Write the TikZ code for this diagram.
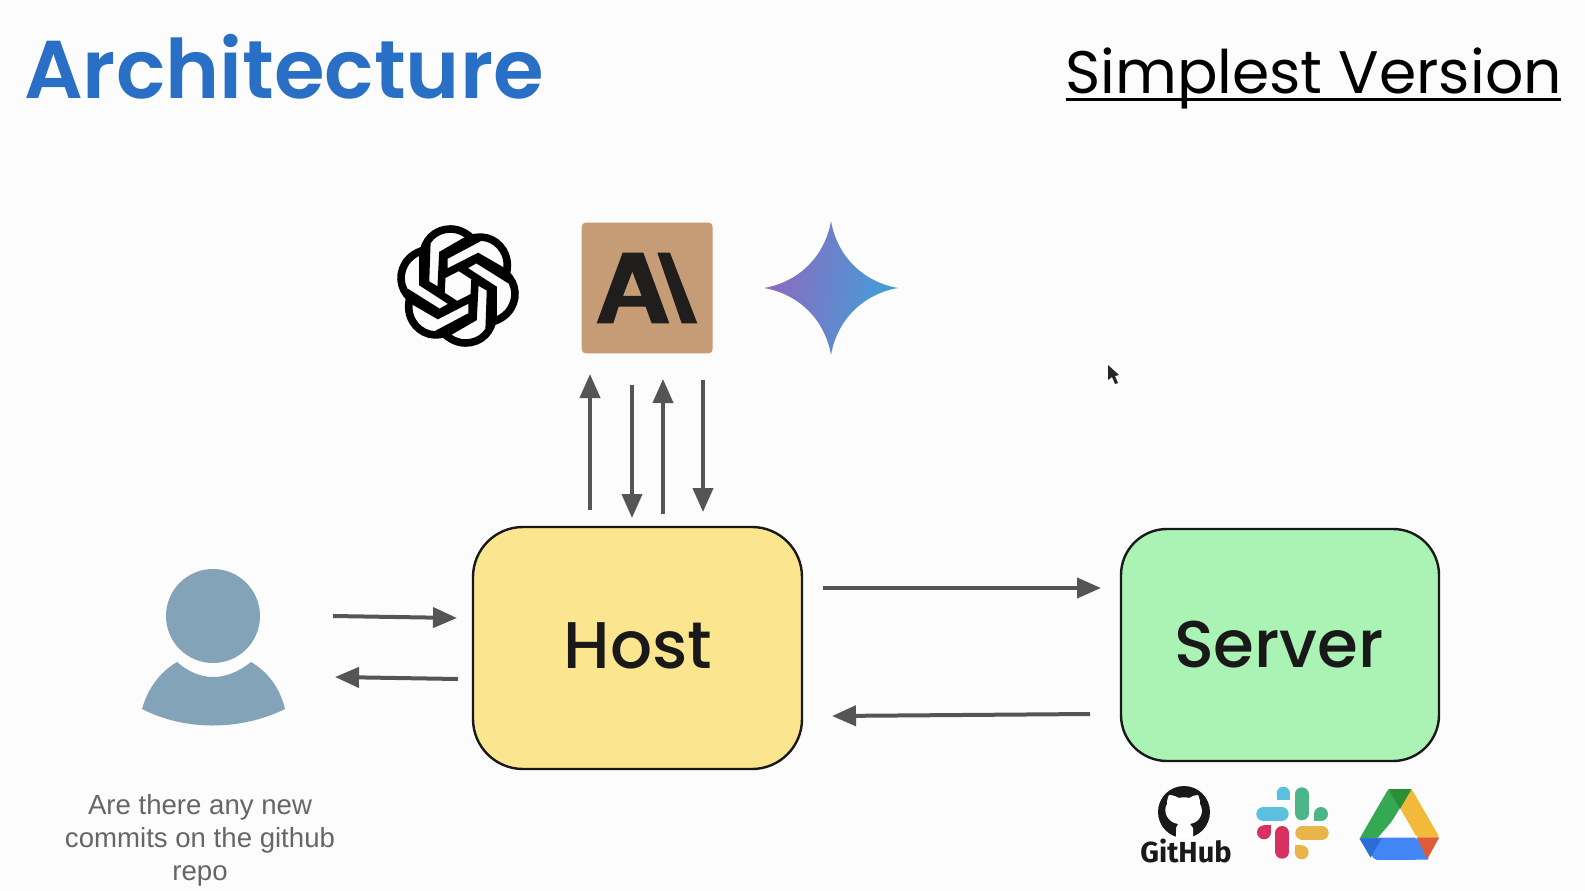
\documentclass[tikz,border=0pt]{standalone}
\usepackage{fontspec}
\setmainfont{Liberation Sans}
\newfontfamily\poppins{Poppins}
\newfontfamily\poppinsM{Poppins Medium}
\newfontfamily\poppinsS{Poppins SemiBold}
\newfontfamily\fira{Fira Sans}
\usetikzlibrary{arrows.meta}
\definecolor{titleblue}{HTML}{2A6FC6}
\definecolor{arrowgrey}{HTML}{555555}
\definecolor{hostfill}{HTML}{FBE68F}
\definecolor{serverfill}{HTML}{ABF3B5}
\definecolor{usercol}{HTML}{83A3B8}
\definecolor{anthro}{HTML}{C69C76}
\definecolor{anthroink}{HTML}{1F1E1C}
\definecolor{starL}{HTML}{9069BC}
\definecolor{starM}{HTML}{5F80CC}
\definecolor{starR}{HTML}{3FA0DC}
\definecolor{slackB}{HTML}{5BC0E0}
\definecolor{slackG}{HTML}{4DB58A}
\definecolor{slackR}{HTML}{D8315F}
\definecolor{slackY}{HTML}{E9B54A}
\definecolor{drvG}{HTML}{34A853}
\definecolor{drvDG}{HTML}{2A8F35}
\definecolor{drvY}{HTML}{F2B93B}
\definecolor{drvB}{HTML}{4285F4}
\definecolor{drvDB}{HTML}{2B6DD2}
\definecolor{drvR}{HTML}{DD5B35}
\tikzset{
  flowarrow/.style={draw=arrowgrey,line width=4pt,-{Triangle[length=24pt,width=20pt]}},
  sketchbox/.style={draw=black!90,line width=2.4pt},
  boxlabel/.style={font=\poppinsM\fontsize{66}{66}\selectfont,text=black!90},
  knot/.style={draw=black,line width=7.6pt,line join=miter,line cap=butt},
  slackpill/.style={line width=14pt,line cap=round}
}
\begin{document}
\begin{tikzpicture}[x=1pt,y=-1pt]
\useasboundingbox (0,0) rectangle (1585,891);
\fill[white!99!black] (0,0) rectangle (1585,891);
% titles
\node[anchor=base west,inner sep=0pt,text=titleblue,font=\poppinsS\fontsize{82}{82}\selectfont] (title) at (24,99) {Architecture};
\node[anchor=base east,inner sep=0pt,text=black,font=\poppins\fontsize{60}{60}\selectfont] (version) at (1562,93) {Simplest Version};
\coordinate (ul1) at (1066,99);
\coordinate (ul2) at (1561,99);
\draw[line width=3pt] (ul1) -- (ul2);
% OpenAI knot
\foreach \a in {0,60,...,300}{
  \begin{scope}[xshift=458pt,yshift=-286pt,rotate=\a,x=.95pt,y=-.95pt]
    \draw[knot] (-3,19) -- (-37,-3) -- (-37,-30) .. controls (-37,-48) and (-24,-60) .. (-8,-60)
      .. controls (2,-60) and (10,-55) .. (17,-48) -- (-15,-31) -- (-15,-12);
  \end{scope}
}
% Anthropic tile
\begin{scope}[xshift=380pt,yshift=-210pt,x=.3333pt,y=-.3333pt]
  \fill[anthro,rounded corners=4pt] (605,38) rectangle (998,430);
  \fill[anthroink,even odd rule] (650,340) -- (728,128) -- (790,128) -- (868,340) -- (815,340) -- (797,290) -- (716,290) -- (700,340) -- cycle
    (757,185) -- (729,258) -- (785,258) -- cycle;
  \fill[anthroink] (832,128) -- (870,128) -- (952,340) -- (905,340) -- cycle;
\end{scope}
% Gemini star
\shade[left color=starL,middle color=starM,right color=starR,shading angle=80]
  (831,221) .. controls (837,256) and (863,282) .. (898,288)
  .. controls (863,294) and (837,320) .. (831,355)
  .. controls (825,320) and (799,294) .. (764,288)
  .. controls (799,282) and (825,256) .. (831,221) -- cycle;
% boxes
\draw[sketchbox,fill=hostfill,rounded corners=50pt] (473,527) rectangle (802,769);
\node[boxlabel] (host) at (638,646) {Host};
\draw[sketchbox,fill=serverfill,rounded corners=46pt] (1121,529) rectangle (1439,761);
\node[boxlabel] (server) at (1279,645) {Server};
% arrow ends
\coordinate (a1s) at (590,510); \coordinate (a1e) at (590,374);
\coordinate (a2s) at (632,385); \coordinate (a2e) at (632,518);
\coordinate (a3s) at (663,514); \coordinate (a3e) at (663,379);
\coordinate (a4s) at (703,380); \coordinate (a4e) at (703,512);
\coordinate (hss) at (823,588); \coordinate (hse) at (1101,588);
\coordinate (shs) at (1090,714); \coordinate (she) at (832,716);
\coordinate (uhs) at (333,616); \coordinate (uhe) at (457,618);
\coordinate (hus) at (458,679); \coordinate (hue) at (335,677);
\foreach \s/\e in {a1s/a1e,a2s/a2e,a3s/a3e,a4s/a4e,hss/hse,shs/she,uhs/uhe,hus/hue}
  \draw[flowarrow] (\s) -- (\e);
% user
\fill[usercol] (213,616) circle (47);
\fill[usercol] (142,709) .. controls (148,688) and (160,672) .. (177,662)
  .. controls (200,682) and (226,682) .. (251,662)
  .. controls (268,672) and (280,688) .. (285,709)
  .. controls (240,731) and (185,731) .. (142,709) -- cycle;
\node[anchor=base,inner sep=0pt,text=black!60,font=\fontsize{27.6}{33}\selectfont] (cap1) at (200,814) {Are there any new};
\node[anchor=base,inner sep=0pt,text=black!60,font=\fontsize{27.6}{33}\selectfont] (cap2) at (200,847) {commits on the github};
\node[anchor=base,inner sep=0pt,text=black!60,font=\fontsize{27.6}{33}\selectfont] (cap3) at (200,880) {repo};
% GitHub
\fill[black!90] (1184,812) circle (26);
\fill[white] (1169,795) .. controls (1174,795) and (1177,797) .. (1179,798)
  .. controls (1182,797) and (1186,797) .. (1189,798)
  .. controls (1192,796) and (1195,795) .. (1198,795)
  .. controls (1200,799) and (1200,802) .. (1200,804)
  .. controls (1204,810) and (1202,822) .. (1190,824)
  -- (1193,828) -- (1193,838) -- (1176,838) -- (1176,828) -- (1178,824)
  .. controls (1166,822) and (1163,810) .. (1167,804)
  .. controls (1167,802) and (1167,799) .. (1169,795) -- cycle;
\draw[black!90,line width=2.2pt] (1162,822) .. controls (1168,823) and (1168,829) .. (1176,830);
\node[anchor=base,inner sep=0pt,text=black!90,font=\fira\bfseries\fontsize{29}{29}\selectfont] (gh) at (1186,862) {GitHub};
% Slack
\begin{scope}[xshift=1120pt,yshift=-765pt,x=.3333pt,y=-.3333pt]
  \draw[slackpill,slackB] (430,147) -- (485,147);
  \fill[slackB] (490,85) circle (20);
  \fill[slackB] (470,85) rectangle (510,105);
  \draw[slackpill,slackG] (545,88) -- (545,145);
  \fill[slackG] (603,147) circle (21);
  \fill[slackG] (582,147) rectangle (603,168);
  \draw[slackpill,slackR] (487,204) -- (487,260);
  \fill[slackR] (432,202) circle (21);
  \fill[slackR] (432,181) rectangle (453,202);
  \draw[slackpill,slackY] (547,203) -- (605,203);
  \fill[slackY] (545,262) circle (21);
  \fill[slackY] (524,241) rectangle (545,262);
  % Drive
  \fill[drvG,rounded corners=2pt] (805,72) -- (845,135) -- (770,222) -- (718,222) -- cycle;
  \fill[drvY,rounded corners=2pt] (875,72) -- (958,216) -- (890,216) -- (835,122) -- cycle;
  \fill[drvDG] (805,72) -- (875,72) -- (840,132) -- cycle;
  \fill[white!99!black] (785,218) -- (840,130) -- (890,218) -- cycle;
  \fill[drvB,rounded corners=2pt] (785,218) -- (890,218) -- (928,284) -- (765,285) -- (718,220) -- cycle;
  \fill[drvDB] (718,220) -- (785,220) -- (752,278) -- cycle;
  \fill[drvR] (890,217) -- (958,217) -- (922,282) -- cycle;
\end{scope}
% cursor
\fill[black!85] (1108,365) -- (1108,380) -- (1112,377) -- (1115,384) -- (1118,383) -- (1115,376) -- (1119,375) -- cycle;
\end{tikzpicture}
\end{document}
